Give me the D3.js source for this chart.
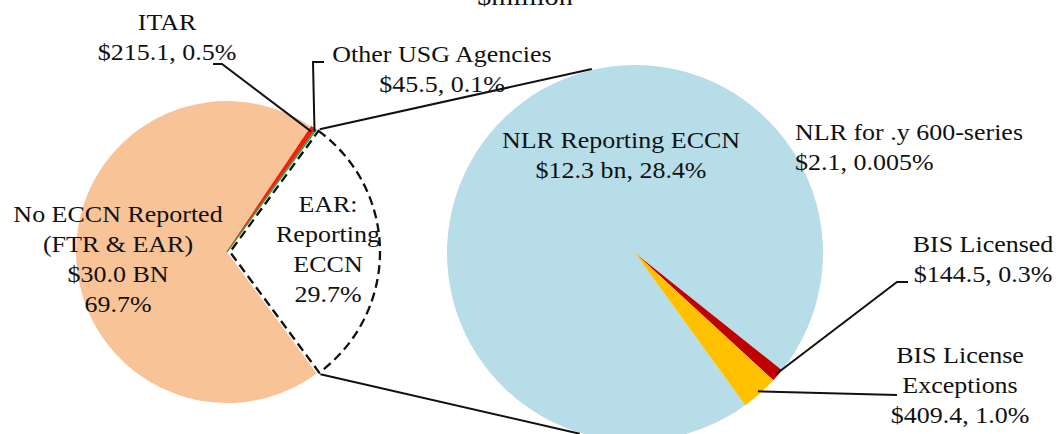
<!DOCTYPE html>
<html>
<head>
<meta charset="utf-8">
<script src="https://cdn.jsdelivr.net/npm/d3@7"></script>
<style>
  body { margin: 0; background: #fff; }
</style>
</head>
<body>
<svg id="frame" width="1060" height="434"></svg>
<script>
// main pie ($million)
const primaryNames = ["No ECCN Reported", "ITAR", "Other USG Agencies", "EAR: Reporting ECCN"];
const primaryLabels = [
	["No ECCN Reported", "(FTR & EAR)", "$30.0 BN", "69.7%"],
	["ITAR", "$215.1, 0.5%"],
	["Other USG Agencies", "$45.5, 0.1%"],
	["EAR:", "Reporting", "ECCN", "29.7%"]
];

// breakdown of the EAR slice
const secondaryNames = ["NLR Reporting ECCN", "NLR for .y 600-series", "BIS Licensed", "BIS License Exceptions"];
const secondaryValues = [12300, 2.1, 144.5, 409.4];
const secondaryLabels = [
	["NLR Reporting ECCN", "$12.3 bn, 28.4%"],
	["NLR for .y 600-series", "$2.1, 0.005%"],
	["BIS Licensed", "$144.5, 0.3%"],
	["BIS License", "Exceptions", "$409.4, 1.0%"]
];

const primaryValues = [30000, 215.1, 45.5, d3.sum(secondaryValues)];

// layout
const rad = Math.PI / 180;
const left = {cx: 227, cy: 252, r: 151, start: 143.5};
const right = {cx: 635, cy: 253, r: 188, start: 144.1};
const colors1 = ["#F9C398", "#FF1A0A", "#3FA34D", "none"];
const colors2 = ["#B7DDE8", "#8EB4E3", "#C00000", "#FFC000"];
const lineH = 30;
const stretch = 1.13;
const font = "'Liberation Serif', 'Times New Roman', 'DejaVu Serif', serif";

const svg = d3.select("#frame");

function point(c, a, r) {
	return [c.cx + r * Math.sin(a), c.cy - r * Math.cos(a)];
}

const pie1 = d3.pie().sort(null)
	.startAngle(left.start * rad).endAngle(left.start * rad + 2 * Math.PI);
const pie2 = d3.pie().sort(null)
	.startAngle(right.start * rad).endAngle(right.start * rad + 2 * Math.PI);

const arcs1 = pie1(primaryValues);
const arcs2 = pie2(secondaryValues);

const arc1 = d3.arc().innerRadius(0).outerRadius(left.r);
const arc2 = d3.arc().innerRadius(0).outerRadius(right.r);

// left pie
svg.append("g")
	.attr("transform", `translate(${left.cx},${left.cy})`)
	.selectAll("path")
	.data(arcs1.slice(0, 3))
	.join("path")
	.attr("d", arc1)
	.attr("fill", (d, i) => colors1[i])
	.attr("stroke", (d, i) => i == 0 ? "none" : colors1[i])
	.attr("stroke-width", (d, i) => i == 0 ? 0 : 1.2);

// exploded, dashed EAR slice
const ear = arcs1[3];
const mid = (ear.startAngle + ear.endAngle) / 2;
const off = 3;
const earCenter = {cx: left.cx + off * Math.sin(mid), cy: left.cy - off * Math.cos(mid)};
svg.append("path")
	.attr("transform", `translate(${earCenter.cx},${earCenter.cy})`)
	.attr("d", d3.arc().innerRadius(0).outerRadius(left.r - 1)(ear))
	.attr("fill", "#fff")
	.attr("stroke", "#111")
	.attr("stroke-width", 2.3)
	.attr("stroke-dasharray", "9,5");

// right pie
svg.append("g")
	.attr("transform", `translate(${right.cx},${right.cy})`)
	.selectAll("path")
	.data(arcs2)
	.join("path")
	.attr("d", arc2)
	.attr("fill", (d, i) => colors2[i]);

// connector lines between the two pies
const connectTo = [-13.2, 197];
const corners = [point(earCenter, ear.startAngle, left.r + 1), point(earCenter, ear.endAngle, left.r + 1)];
svg.append("g").selectAll("line")
	.data(corners)
	.join("line")
	.attr("x1", d => d[0])
	.attr("y1", d => d[1])
	.attr("x2", (d, i) => point(right, connectTo[i] * rad, right.r + 1)[0])
	.attr("y2", (d, i) => point(right, connectTo[i] * rad, right.r + 1)[1])
	.attr("stroke", "#111")
	.attr("stroke-width", 2);

// leader lines: hook points near label, then to slice edge
const leaders = [
	{d: arcs1[1], c: left, r: left.r - 4, hook: [[213, 64], [222, 64]]},
	{d: arcs1[2], c: left, r: left.r - 2, hook: [[324, 62], [313, 62]]},
	{d: arcs2[2], c: right, r: right.r - 2, hook: [[908, 282], [897, 282]]},
	{d: arcs2[3], c: right, r: right.r - 3, hook: [[897, 395]]}
];
svg.append("g").selectAll("path")
	.data(leaders)
	.join("path")
	.attr("d", l => {
		let a = (l.d.startAngle + l.d.endAngle) / 2;
		return d3.line()(l.hook.concat([point(l.c, a, l.r)]));
	})
	.attr("fill", "none")
	.attr("stroke", "#111")
	.attr("stroke-width", 2);

// labels
const labelPos1 = [[118, 222, "middle"], [167, 30, "middle"], [442, 62, "middle"], [328, 212, "middle"]];
const labelPos2 = [[621, 148, "middle"], [795, 140, "start"], [983, 252, "middle"], [960, 363, "middle"]];

function addLabels(lines, pos) {
	lines.forEach((ls, i) => {
		ls.forEach((t, j) => {
			svg.append("text")
				.attr("transform", `translate(${pos[i][0]},${pos[i][1] + j * lineH}) scale(${stretch},1)`)
				.attr("text-anchor", pos[i][2])
				.attr("font-family", font)
				.attr("font-size", 23)
				.attr("fill", "#111")
				.text(t);
		});
	});
}
addLabels(primaryLabels, labelPos1);
addLabels(secondaryLabels, labelPos2);

// title, mostly cut off at the top edge
svg.append("text")
	.attr("transform", `translate(525,5) scale(${stretch},1)`)
	.attr("text-anchor", "middle")
	.attr("font-family", font)
	.attr("font-size", 25)
	.attr("fill", "#111")
	.text("$million");
</script>
</body>
</html>
